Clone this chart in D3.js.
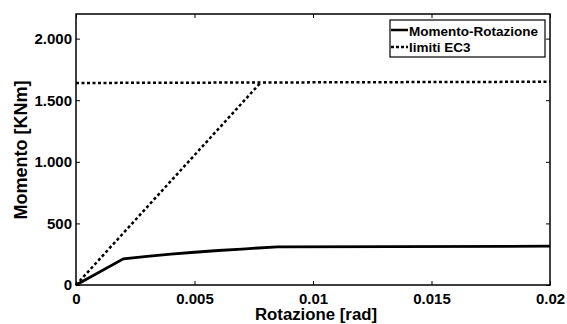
<!DOCTYPE html>
<html><head><meta charset="utf-8">
<script src="https://cdn.jsdelivr.net/npm/d3@7"></script>
<style>body{margin:0;background:#fff}svg{display:block}</style>
</head><body>
<svg id="c" width="567" height="324"></svg>
<script>
// Data
const momentoRot = [[0,0],[0.002,212],[0.003,232],[0.004,250],[0.005,266],[0.006,280],[0.007,292],[0.0085,310],[0.02,315]];
const limitiDiag = [[0,0],[0.0078,1645]];
const limitiFlat = [[0,1640],[0.02,1650]];
const xTicks = [0,0.005,0.01,0.015,0.02];
const xTickLabels = ["0","0.005","0.01","0.015","0.02"];
const yTicks = [0,500,1000,1500,2000];
const yTickLabels = ["0","500","1.000","1.500","2.000"];
const legendLabels = ["Momento-Rotazione","limiti EC3"];

const FONT = "'Liberation Sans', Arial, Helvetica, sans-serif";
const svg = d3.select("#c");
const L=76,R=550,T=14,B=285;
const x = d3.scaleLinear().domain([0,0.02]).range([L,R]);
const y = d3.scaleLinear().domain([0,2200]).range([B,T]);

const line = d3.line().x(d=>x(d[0])).y(d=>y(d[1]));
svg.append("path").datum(limitiFlat).attr("d",line).attr("fill","none").attr("stroke","#000").attr("stroke-width",2.5).attr("stroke-dasharray","3,2.5");
svg.append("path").datum(limitiDiag).attr("d",line).attr("fill","none").attr("stroke","#000").attr("stroke-width",2.5).attr("stroke-dasharray","3,2.5");
svg.append("path").datum(momentoRot).attr("d",line).attr("fill","none").attr("stroke","#000").attr("stroke-width",2.8);

// axes
const tl=4;
const ax = svg.append("g");
ax.append("g").attr("transform",`translate(0,${B})`).call(d3.axisBottom(x).tickValues(xTicks).tickFormat((d,i)=>xTickLabels[i]).tickSizeInner(-tl).tickSizeOuter(0).tickPadding(8));
ax.append("g").attr("transform",`translate(0,${T})`).call(d3.axisTop(x).tickValues(xTicks).tickFormat("").tickSizeInner(-tl).tickSizeOuter(0));
ax.append("g").attr("transform",`translate(${L},0)`).call(d3.axisLeft(y).tickValues(yTicks).tickFormat((d,i)=>yTickLabels[i]).tickSizeInner(-tl).tickSizeOuter(0).tickPadding(4));
ax.append("g").attr("transform",`translate(${R},0)`).call(d3.axisRight(y).tickValues(yTicks).tickFormat("").tickSizeInner(-tl).tickSizeOuter(0));
ax.selectAll(".domain").remove();
ax.selectAll("g").attr("font-family",null).attr("font-size",null);
ax.selectAll(".tick line").attr("stroke","#000").attr("stroke-width",1);
ax.selectAll(".tick text").style("font-size","15px").style("font-weight","bold").style("font-family",FONT).attr("fill","#000");
svg.append("rect").attr("x",L).attr("y",T).attr("width",R-L).attr("height",B-T).attr("fill","none").attr("stroke","#000").attr("stroke-width",1.5);

function txt(sel,size){return sel.style("font-family",FONT).style("font-weight","bold").style("font-size",size+"px").attr("fill","#000");}
// axis labels
txt(svg.append("text").attr("x",316).attr("y",320).attr("text-anchor","middle"),16.8).text("Rotazione [rad]");
txt(svg.append("text").attr("transform","translate(27,150) rotate(-90)").attr("text-anchor","middle"),18).text("Momento [KNm]");

// legend
const lg = svg.append("g");
lg.append("rect").attr("x",390).attr("y",20).attr("width",155).attr("height",37).attr("fill","#fff").attr("stroke","#000").attr("stroke-width",1.2);
lg.append("line").attr("x1",391).attr("x2",408).attr("y1",30).attr("y2",30).attr("stroke","#000").attr("stroke-width",2.5);
lg.append("line").attr("x1",391).attr("x2",408).attr("y1",47).attr("y2",47).attr("stroke","#000").attr("stroke-width",2.5).attr("stroke-dasharray","3,2");
txt(lg.append("text").attr("x",409).attr("y",35.5),13.5).text(legendLabels[0]);
txt(lg.append("text").attr("x",409).attr("y",52),13.5).text(legendLabels[1]);
</script>
</body></html>
